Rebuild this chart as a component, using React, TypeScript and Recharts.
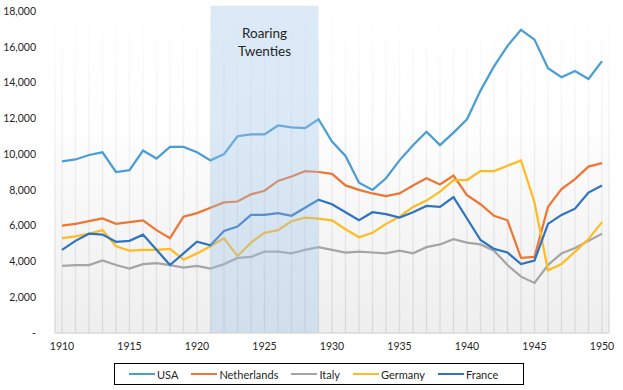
import React from 'react';
import { LineChart, Line, XAxis, YAxis, CartesianGrid, ReferenceArea } from 'recharts';

const years = [1910,1911,1912,1913,1914,1915,1916,1917,1918,1919,1920,1921,1922,1923,1924,1925,1926,1927,1928,1929,1930,1931,1932,1933,1934,1935,1936,1937,1938,1939,1940,1941,1942,1943,1944,1945,1946,1947,1948,1949,1950];
const usa = [9600,9700,9950,10100,9000,9100,10200,9750,10400,10400,10100,9650,10000,11000,11100,11100,11600,11500,11450,11950,10700,9900,8400,8000,8650,9650,10500,11250,10500,11200,11950,13550,14900,16050,16950,16400,14800,14300,14650,14200,15200];
const netherlands = [6000,6100,6250,6400,6100,6200,6300,5750,5300,6500,6700,7000,7300,7350,7750,7950,8500,8750,9050,9000,8900,8250,8000,7800,7650,7800,8250,8650,8300,8800,7700,7200,6550,6300,4200,4250,7050,8050,8600,9300,9500];
const italy = [3750,3800,3800,4050,3800,3600,3850,3900,3800,3650,3750,3600,3850,4200,4250,4550,4550,4450,4650,4800,4650,4500,4550,4500,4450,4600,4450,4800,4950,5250,5050,4950,4600,3800,3150,2800,3800,4450,4750,5150,5550];
const germany = [5300,5400,5550,5750,4850,4600,4650,4650,4700,4100,4450,4850,5300,4300,5050,5600,5750,6250,6450,6400,6300,5800,5350,5600,6100,6500,7050,7400,7900,8550,8550,9050,9050,9350,9650,7300,3500,3850,4550,5250,6200];
const france = [4650,5150,5550,5500,5100,5150,5500,4650,3800,4450,5100,4900,5700,5950,6600,6600,6700,6550,7000,7450,7200,6750,6300,6750,6650,6450,6750,7100,7050,7600,6400,5200,4700,4500,3850,4050,6100,6600,6950,7850,8250];
const yTicks = [0,2000,4000,6000,8000,10000,12000,14000,16000,18000];
const eraStart = 1921;
const eraEnd = 1929;
const eraLabel = ['Roaring', 'Twenties'];

const seriesList = [
  { key: 'USA', values: usa, color: '#4a9ed6' },
  { key: 'Netherlands', values: netherlands, color: '#EE7633' },
  { key: 'Italy', values: italy, color: '#A5A5A5' },
  { key: 'Germany', values: germany, color: '#FFBB22' },
  { key: 'France', values: france, color: '#2F74C0' },
];

const data = years.map((y, i) => {
  const row: any = { year: y };
  seriesList.forEach(s => { row[s.key] = s.values[i]; });
  return row;
});

const FONT = 'Lato, "Open Sans", sans-serif';

const EraLabel = (props: any) => {
  const vb = props.viewBox || {};
  const cx = vb.x + vb.width / 2;
  return (
    <text x={cx} y={vb.y + 32} textAnchor="middle" fontFamily={FONT} fontSize={13.5} fill="#262626">
      <tspan x={cx} dy={0}>{eraLabel[0]}</tspan>
      <tspan x={cx} dy={18}>{eraLabel[1]}</tspan>
    </text>
  );
};

export default function App() {
  return (
    <div style={{ position: 'absolute', left: 0, top: 0, width: 623, height: 390, background: '#fff', fontFamily: FONT }}>
      <LineChart width={623} height={390} data={data} margin={{ top: 11, right: 14, bottom: 27, left: 0 }}>
        <defs>
          <linearGradient id="bgGrad" x1="0" y1="0" x2="0" y2="1">
            <stop offset="0%" stopColor="#ffffff" />
            <stop offset="35%" stopColor="#fefefe" />
            <stop offset="100%" stopColor="#eeeeee" />
          </linearGradient>
          <linearGradient id="vGrad" gradientUnits="userSpaceOnUse" x1="0" y1="11" x2="0" y2="333">
            <stop offset="0%" stopColor="#ffffff" />
            <stop offset="30%" stopColor="#f4f4f4" />
            <stop offset="100%" stopColor="#d8d8d8" />
          </linearGradient>
        </defs>
        <CartesianGrid horizontal={false} vertical={true} fill="url(#bgGrad)" fillOpacity={1} stroke="url(#vGrad)" strokeWidth={1.3} />
        <XAxis
          dataKey="year"
          type="category"
          interval={0}
          padding={{ left: 7, right: 7 }}
          tickLine={false}
          tickSize={0}
          tickMargin={10}
          height={30}
          axisLine={{ stroke: '#d9d9d9', strokeWidth: 1.3 }}
          tick={{ fontSize: 10.5, fill: '#262626', fontFamily: FONT }}
          tickFormatter={(v: any) => (Number(v) % 5 === 0 ? String(v) : '')}
        />
        <YAxis
          width={55}
          domain={[0, 18000]}
          ticks={yTicks}
          interval={0}
          axisLine={false}
          tickLine={false}
          tickSize={0}
          tickMargin={19}
          tick={{ fontSize: 10.5, fill: '#262626', fontFamily: FONT }}
          tickFormatter={(v: number) => (v === 0 ? '-' : v.toLocaleString('en-US'))}
        />
        {seriesList.map(s => (
          <Line key={s.key} type="linear" dataKey={s.key} stroke={s.color} strokeWidth={2.25} dot={false} activeDot={false} isAnimationActive={false} />
        ))}
        <ReferenceArea
          x1={eraStart}
          x2={eraEnd}
          y1={0}
          y2={18300}
          ifOverflow="visible"
          fill="#9dc3e6"
          fillOpacity={0.36}
          stroke="none"
          zIndex={450}
          label={<EraLabel />}
        />
      </LineChart>
      <div style={{ position: 'absolute', left: 114, top: 363, width: 394, height: 20, border: '1px solid #000', display: 'flex', alignItems: 'center', paddingLeft: 14, boxSizing: 'content-box', fontSize: 11, color: '#262626', whiteSpace: 'nowrap' }}>
        {seriesList.map(s => (
          <div key={s.key} style={{ display: 'flex', alignItems: 'center', marginRight: 13 }}>
            <div style={{ width: 26, height: 2.5, background: s.color, marginRight: 2 }} />
            <span>{s.key}</span>
          </div>
        ))}
      </div>
    </div>
  );
}
